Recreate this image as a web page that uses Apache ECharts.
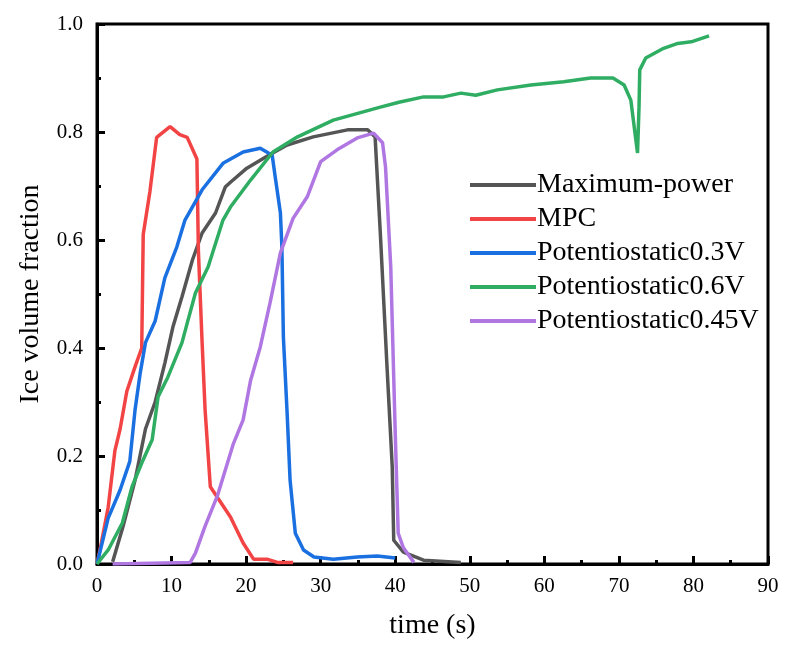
<!DOCTYPE html>
<html><head><meta charset="utf-8">
<script src="https://cdn.jsdelivr.net/npm/echarts@6/dist/echarts.min.js"></script>
<style>html,body{margin:0;padding:0;background:#fff}#c{width:787px;height:646px}</style>
</head><body><div id="c"></div>
<script>
const seriesNames = ['Maximum-power','MPC','Potentiostatic0.3V','Potentiostatic0.6V','Potentiostatic0.45V'];
const colors = ['#555555','#f24444','#1a70e0','#2fad62','#b077e2'];
const maxPower = [[2.1,0.004],[3.5,0.07],[5.1,0.155],[6.5,0.25],[7.8,0.3],[9.1,0.372],[10.2,0.44],[11.4,0.495],[12.8,0.563],[14.1,0.613],[15.9,0.65],[17.2,0.698],[17.9,0.707],[20.1,0.733],[22.8,0.755],[25.5,0.776],[29.0,0.791],[33.6,0.804],[36.3,0.804],[37.3,0.791],[38.0,0.613],[38.9,0.365],[39.6,0.18],[39.8,0.044],[41.1,0.022],[43.8,0.007],[48.8,0.003]];
const mpc = [[0,0],[0.6,0.04],[1.5,0.105],[2.4,0.21],[3.1,0.25],[4.0,0.32],[5.1,0.365],[6.0,0.40],[6.2,0.61],[7.1,0.69],[8.0,0.79],[9.8,0.81],[11.1,0.795],[12.1,0.79],[13.4,0.75],[13.6,0.58],[14.1,0.41],[14.5,0.285],[15.2,0.143],[17.9,0.087],[19.6,0.039],[21.0,0.009],[22.8,0.009],[24.2,0.003],[26.3,0.003]];
const pot03 = [[0,0],[1.5,0.085],[3.1,0.137],[4.4,0.19],[5.1,0.285],[5.8,0.354],[6.5,0.41],[7.8,0.45],[9.1,0.53],[10.7,0.587],[11.8,0.637],[14.1,0.693],[16.9,0.742],[19.6,0.763],[21.9,0.77],[23.5,0.757],[23.9,0.717],[24.6,0.65],[24.8,0.587],[25.0,0.42],[25.5,0.28],[25.9,0.155],[26.6,0.057],[27.7,0.026],[29.1,0.013],[31.7,0.009],[34.9,0.013],[37.6,0.015],[40.0,0.011]];
const pot06 = [[0,0],[1.5,0.026],[3.4,0.076],[4.7,0.143],[6.0,0.187],[7.4,0.23],[8.2,0.31],[9.5,0.346],[11.4,0.41],[12.1,0.446],[13.2,0.502],[14.9,0.55],[16.9,0.637],[17.9,0.661],[20.6,0.711],[23.6,0.763],[26.9,0.791],[31.7,0.822],[38.0,0.846],[40.5,0.855],[43.8,0.865],[46.5,0.865],[48.8,0.872],[50.8,0.868],[53.7,0.878],[58.2,0.887],[62.6,0.893],[66.2,0.9],[69.2,0.9],[70.7,0.887],[71.6,0.859],[72.5,0.761],[72.7,0.846],[72.8,0.915],[73.6,0.937],[76.0,0.955],[77.9,0.964],[79.7,0.967],[82.1,0.978]];
const pot045 = [[2.1,0.0],[12.5,0.003],[13.2,0.02],[14.5,0.07],[15.9,0.118],[16.1,0.124],[18.3,0.223],[19.6,0.267],[20.6,0.34],[21.9,0.402],[23.2,0.483],[24.6,0.576],[26.3,0.64],[28.2,0.68],[30.0,0.745],[32.2,0.767],[34.9,0.789],[37.1,0.798],[38.3,0.78],[38.7,0.735],[39.4,0.55],[40.0,0.243],[40.4,0.057],[41.1,0.03],[42.5,0.003]];
const seriesData = [maxPower, mpc, pot03, pot06, pot045];
const xTitle = 'time (s)', yTitle = 'Ice volume fraction';

const font = 'Liberation Serif, Times New Roman, serif';
const chart = echarts.init(document.getElementById('c'));
chart.setOption({
  animation:false,
  backgroundColor:'#fff',
  grid:{left:97,right:19,top:24,bottom:82,show:true,borderColor:'#000',borderWidth:3,backgroundColor:'transparent'},
  legend:{orient:'vertical',left:465,top:166,itemWidth:66,itemHeight:4,itemGap:6,icon:'rect',
    textStyle:{fontFamily:font,fontSize:28,lineHeight:28,color:'#000',padding:[0,0,0,-4]},
    data:seriesNames},
  xAxis:{type:'value',min:0,max:90,interval:10,name:xTitle,nameLocation:'middle',nameGap:48,
    nameTextStyle:{fontFamily:font,fontSize:28,color:'#000'},
    axisLine:{lineStyle:{color:'#000',width:3}},
    axisTick:{inside:true,length:8,lineStyle:{color:'#000',width:3}},
    minorTick:{show:true,splitNumber:2,length:4,lineStyle:{color:'#000',width:3}},
    splitLine:{show:false},
    axisLabel:{fontFamily:font,fontSize:21,color:'#000',margin:12}},
  yAxis:{type:'value',min:0,max:1,interval:0.2,name:yTitle,nameLocation:'middle',nameGap:52,
    nameTextStyle:{fontFamily:font,fontSize:28,color:'#000'},
    axisLine:{lineStyle:{color:'#000',width:3}},
    axisTick:{inside:true,length:8,lineStyle:{color:'#000',width:3}},
    minorTick:{show:true,splitNumber:2,length:4,lineStyle:{color:'#000',width:3}},
    splitLine:{show:false},
    axisLabel:{fontFamily:font,fontSize:21,color:'#000',margin:14,formatter:v=>v.toFixed(1)}},
  series:seriesNames.map((n,i)=>({name:n,type:'line',data:seriesData[i],symbol:'none',smooth:false,
    lineStyle:{color:colors[i],width:3.5},itemStyle:{color:colors[i]},z:[2,3,4,5,6][i]}))
});
</script></body></html>
